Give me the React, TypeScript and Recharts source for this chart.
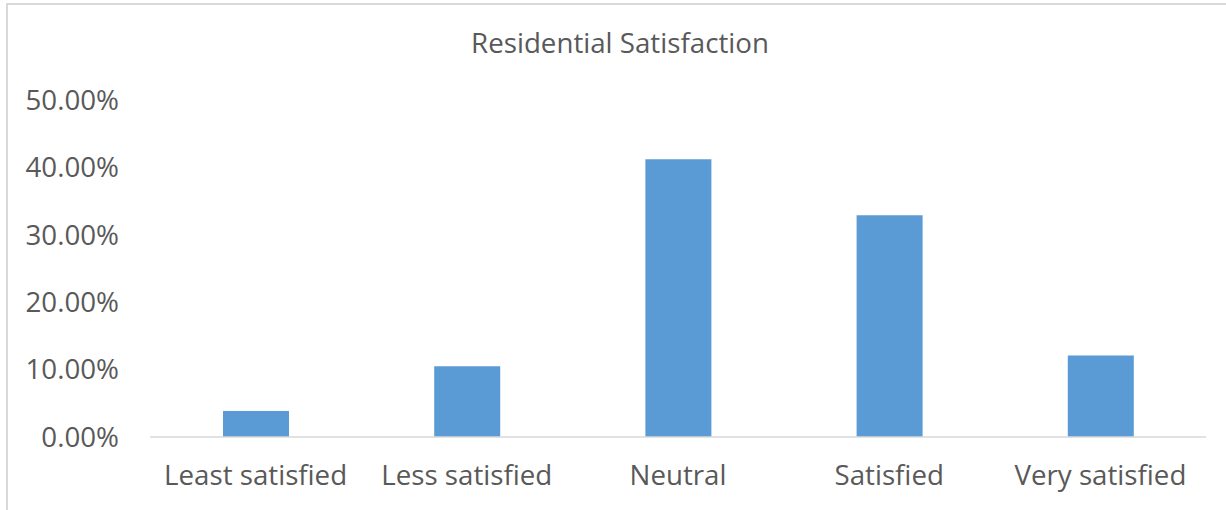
import { BarChart, Bar, XAxis, YAxis } from "recharts";

const categories = [
  "Least satisfied",
  "Less satisfied",
  "Neutral",
  "Satisfied",
  "Very satisfied",
];
const shares = [0.0386, 0.105, 0.412, 0.329, 0.121];
const yTicks = [0, 0.1, 0.2, 0.3, 0.4, 0.5];

const data = categories.map((name, i) => ({ name, value: shares[i] }));

const font = "'Open Sans', sans-serif";
const textColor = "#595959";
const fontSize = 27.7;

export default function App() {
  return (
    <div
      style={{
        position: "absolute",
        left: 0,
        top: 0,
        width: 1226,
        height: 510,
        overflow: "hidden",
        background: "#fff",
        fontFamily: font,
      }}
    >
      {/* chart frame, clipped at right and bottom */}
      <div
        style={{
          position: "absolute",
          left: 6,
          top: 3,
          width: 1300,
          height: 600,
          border: "2px solid #d9d9d9",
          boxSizing: "border-box",
        }}
      />
      <svg
        width={1226}
        height={80}
        style={{ position: "absolute", left: 0, top: 0 }}
      >
        <text
          x={620}
          y={53}
          textAnchor="middle"
          fill={textColor}
          fontSize={fontSize}
          fontFamily={font}
        >
          Residential Satisfaction
        </text>
      </svg>
      <div style={{ position: "absolute", left: 0, top: 0 }}>
        <BarChart
          width={1226}
          height={510}
          data={data}
          margin={{ top: 100, right: 20, bottom: 13, left: 0 }}
        >
          <XAxis
            dataKey="name"
            height={60}
            tickLine={false}
            tickSize={0}
            tickMargin={28}
            axisLine={{ stroke: "#d9d9d9", strokeWidth: 1.5 }}
            tick={{ fill: textColor, fontSize, fontFamily: font }}
            interval={0}
          />
          <YAxis
            width={150}
            domain={[0, 0.5]}
            ticks={yTicks}
            axisLine={false}
            tickLine={false}
            tickSize={0}
            tickMargin={31}
            tickFormatter={(v: number) => (v * 100).toFixed(2) + "%"}
            tick={{ fill: textColor, fontSize, fontFamily: font }}
          />
          <Bar
            dataKey="value"
            fill="#5b9bd5"
            barSize={66}
            isAnimationActive={false}
          />
        </BarChart>
      </div>
    </div>
  );
}
